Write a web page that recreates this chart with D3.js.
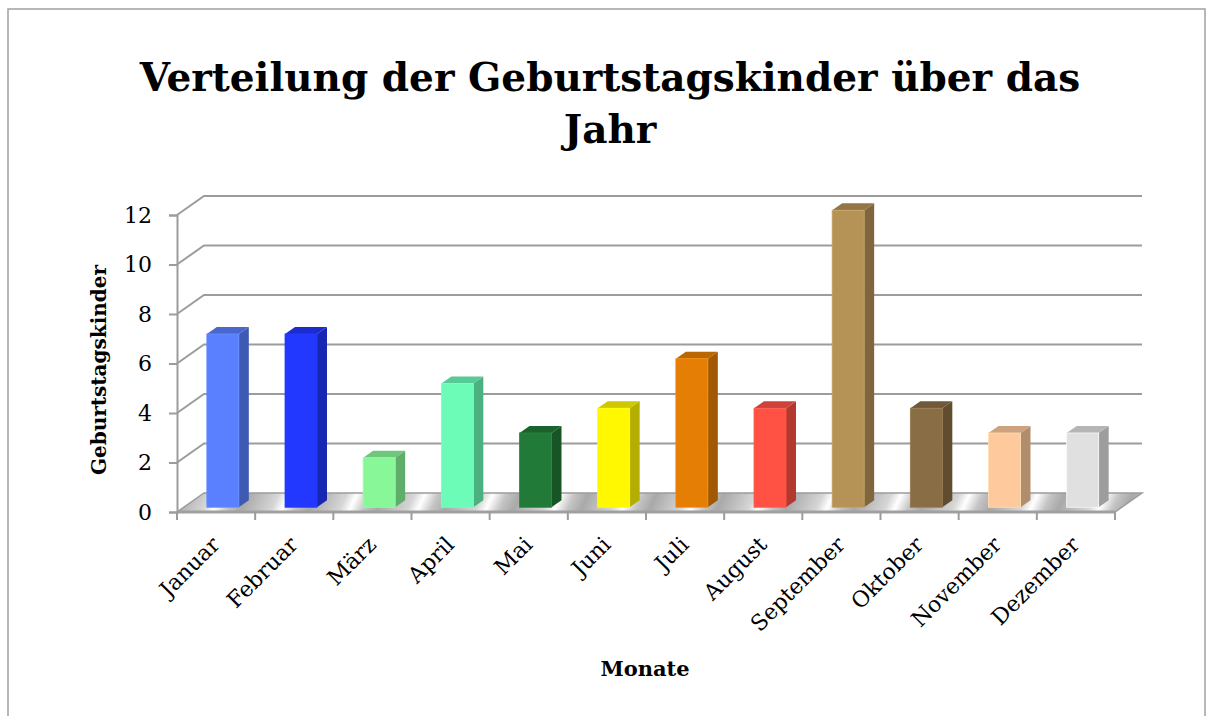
<!DOCTYPE html>
<html>
<head>
<meta charset="utf-8">
<script src="https://cdn.jsdelivr.net/npm/d3@7"></script>
<style>
  html, body { margin: 0; padding: 0; background: #fff; }
  svg { display: block; font-family: "DejaVu Serif", "Liberation Serif", serif; }
</style>
</head>
<body>
<svg id="chart" width="1212" height="716"></svg>
<script>
// data
const months = ["Januar", "Februar", "März", "April", "Mai", "Juni",
  "Juli", "August", "September", "Oktober", "November", "Dezember"];
const counts = [7, 7, 2, 5, 3, 4, 6, 4, 12, 4, 3, 3];
const barColors = ["#5a80ff", "#2238ff", "#88f798", "#6cfcb8", "#217a38", "#fff800",
  "#e57e04", "#ff5245", "#b59256", "#896e45", "#fdc99d", "#e0e0e0"];
const yTicks = [0, 2, 4, 6, 8, 10, 12];
const titleLines = ["Verteilung der Geburtstagskinder über das", "Jahr"];

const svg = d3.select("#chart");

// chart frame
svg.append("rect")
  .attr("x", 8).attr("y", 9)
  .attr("width", 1197).attr("height", 720)
  .attr("fill", "#fff")
  .attr("stroke", "#a0a0a0")
  .attr("stroke-width", 1.5);

// 3d depth vector (back of the plot relative to front)
const DX = 27, DY = 19;

const x = d3.scaleBand()
  .domain(months)
  .range([177, 1115]);

const y = d3.scaleLinear()
  .domain([0, 12])
  .range([512, 215]);

const x0 = x.range()[0], x1 = x.range()[1];

// floor shading
const defs = svg.append("defs");
const grad = defs.append("linearGradient")
  .attr("id", "floorGrad")
  .attr("gradientUnits", "userSpaceOnUse")
  .attr("spreadMethod", "repeat")
  .attr("x1", 180).attr("y1", 494)
  .attr("x2", 236).attr("y2", 520);
grad.append("stop").attr("offset", "0%").attr("stop-color", "#a9a9a9");
grad.append("stop").attr("offset", "45%").attr("stop-color", "#d6d6d6");
grad.append("stop").attr("offset", "60%").attr("stop-color", "#ffffff");
grad.append("stop").attr("offset", "80%").attr("stop-color", "#c4c4c4");
grad.append("stop").attr("offset", "100%").attr("stop-color", "#a9a9a9");

// gridlines: diagonal on the left wall, then along the back wall
const grid = svg.append("g")
  .attr("fill", "none")
  .attr("stroke", "#9c9c9c")
  .attr("stroke-width", 2);

grid.selectAll("path")
  .data(yTicks.filter(d => d > 0))
  .enter()
  .append("path")
  .attr("d", d => `M${x0},${y(d)} L${x0 + DX},${y(d) - DY} L${x1 + DX},${y(d) - DY}`);

// floor
svg.append("path")
  .attr("d", `M${x0},${y(0)} L${x0 + DX},${y(0) - DY} L${x1 + DX},${y(0) - DY} L${x1},${y(0)} Z`)
  .attr("fill", "url(#floorGrad)")
  .attr("stroke", "#9c9c9c")
  .attr("stroke-width", 1.5);

svg.append("line")
  .attr("x1", x0).attr("x2", x1)
  .attr("y1", y(0)).attr("y2", y(0))
  .attr("stroke", "#a0a0a0")
  .attr("stroke-width", 3);

// bars
const f0 = 0.25, f1 = 0.62;   // depth of bar front / back
const barW = 32;
const ddx = DX * (f1 - f0), ddy = DY * (f1 - f0);

const bars = svg.append("g")
  .selectAll("g")
  .data(months.map((m, i) => ({ month: m, value: counts[i], color: barColors[i] })))
  .enter()
  .append("g");

function barGeom(d) {
  const cx = x(d.month) + x.bandwidth() / 2 + DX * f0;
  const left = cx - barW / 2, right = cx + barW / 2;
  const yb = y(0) - DY * f0;
  const yt = y(d.value) - DY * f0;
  return { left, right, yb, yt };
}

bars.append("path")
  .attr("d", d => {
    const g = barGeom(d);
    return `M${g.right},${g.yb} L${g.right + ddx},${g.yb - ddy} L${g.right + ddx},${g.yt - ddy} L${g.right},${g.yt} Z`;
  })
  .attr("fill", d => d3.color(d.color).darker(1.0));

bars.append("path")
  .attr("d", d => {
    const g = barGeom(d);
    return `M${g.left},${g.yt} L${g.left + ddx},${g.yt - ddy} L${g.right + ddx},${g.yt - ddy} L${g.right},${g.yt} Z`;
  })
  .attr("fill", d => d3.color(d.color).darker(0.6));

bars.append("rect")
  .attr("x", d => barGeom(d).left)
  .attr("y", d => barGeom(d).yt)
  .attr("width", barW)
  .attr("height", d => barGeom(d).yb - barGeom(d).yt)
  .attr("fill", d => d.color)
  .attr("stroke", d => d3.color(d.color).brighter(0.3))
  .attr("stroke-width", 0.8);

// value axis
const yAxis = d3.axisLeft(y)
  .tickValues(yTicks)
  .tickSize(8)
  .tickPadding(17);

const yAxisG = svg.append("g")
  .attr("transform", `translate(${x0},0)`)
  .call(yAxis);

yAxisG.select(".domain").attr("stroke", "#9c9c9c").attr("stroke-width", 2);
yAxisG.selectAll(".tick line").attr("stroke", "#9c9c9c").attr("stroke-width", 2);
yAxisG.selectAll(".tick text")
  .attr("fill", "#000")
  .style("font-family", "DejaVu Serif, serif")
  .style("font-size", "22px");

// category ticks at band edges
svg.append("g")
  .selectAll("line")
  .data(months.map((m, i) => i).concat([months.length]))
  .enter()
  .append("line")
  .attr("x1", i => i < months.length ? x(months[i]) : x1)
  .attr("x2", i => i < months.length ? x(months[i]) : x1)
  .attr("y1", y(0))
  .attr("y2", y(0) + 8)
  .attr("stroke", "#9c9c9c")
  .attr("stroke-width", 2);

// category labels
svg.append("g")
  .selectAll("text")
  .data(months)
  .enter()
  .append("text")
  .attr("transform", d => `translate(${x(d) + x.bandwidth() / 2 + 5},546) rotate(-45)`)
  .attr("text-anchor", "end")
  .style("font-size", "22px")
  .text(d => d);

// title
svg.append("g")
  .selectAll("text")
  .data(titleLines)
  .enter()
  .append("text")
  .attr("x", 610)
  .attr("y", (d, i) => 91 + i * 52)
  .attr("text-anchor", "middle")
  .style("font-size", "39px")
  .style("font-weight", "bold")
  .text(d => d);

// axis titles
svg.append("text")
  .attr("x", 645)
  .attr("y", 676)
  .attr("text-anchor", "middle")
  .style("font-size", "21px")
  .style("font-weight", "bold")
  .text("Monate");

svg.append("text")
  .attr("transform", "translate(106,370) rotate(-90)")
  .attr("text-anchor", "middle")
  .style("font-size", "20px")
  .style("font-weight", "bold")
  .text("Geburtstagskinder");
</script>
</body>
</html>
